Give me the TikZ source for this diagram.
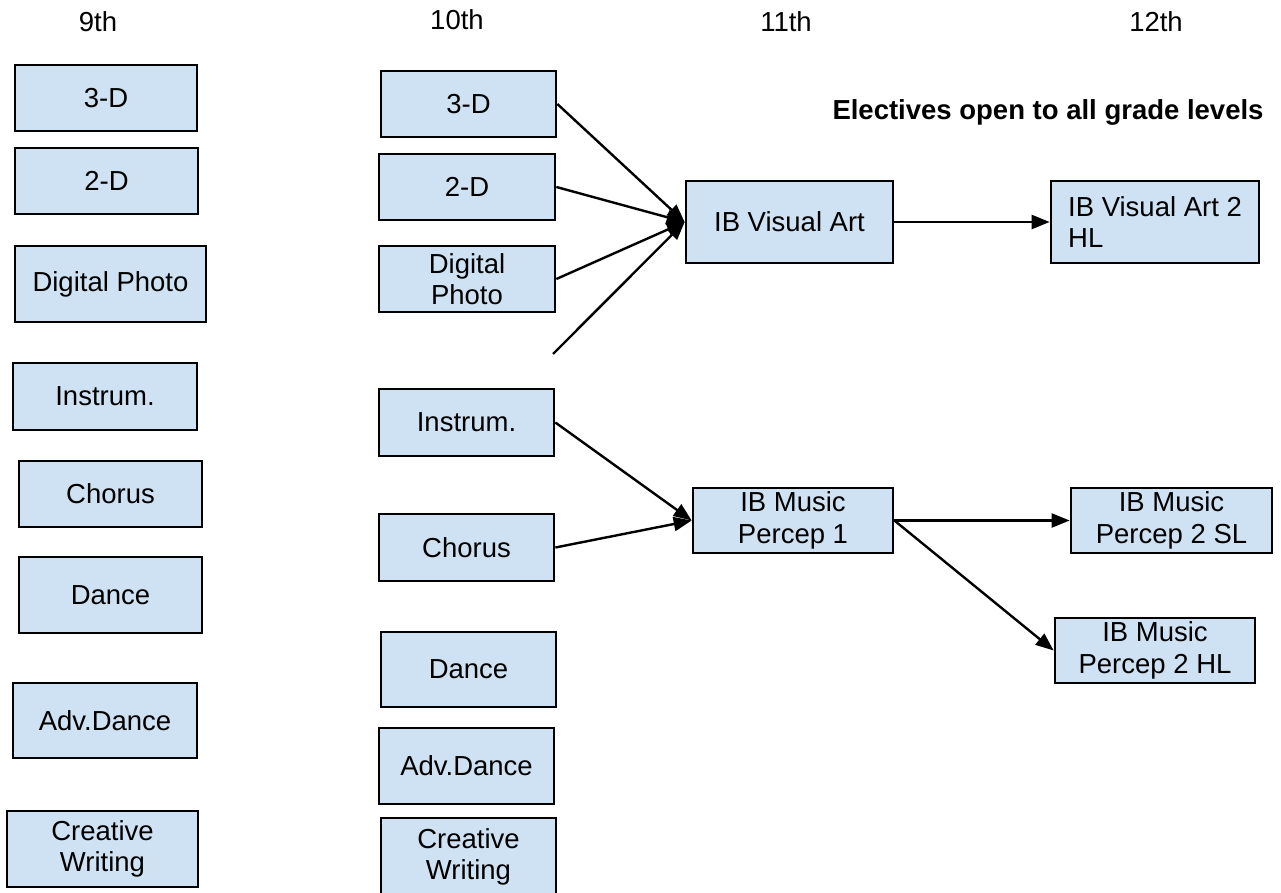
\documentclass[tikz,border=0pt]{standalone}
\usepackage{fontspec}
\setmainfont{Liberation Sans}
\usetikzlibrary{arrows.meta}
\definecolor{courseblue}{HTML}{CFE2F3}
\tikzset{
	course/.style={draw, line width=2.7pt, fill=courseblue, align=center, inner sep=4pt, font=\fontsize{27.5}{31.5}\selectfont},
	grade/.style={font=\fontsize{27.5}{31.5}\selectfont},
	link/.style={line width=2.4pt, -{Triangle[length=18pt,width=14pt]}}
}
\begin{document}
\begin{tikzpicture}[x=1pt,y=-1pt]
	\useasboundingbox (0,0) rectangle (1281,893);
	% grade headings
	\foreach \label/\cx/\cy in {9th/98/22, 10th/457/20, 11th/786/22, 12th/1156/22}
	{
		\node[grade] (head_\label) at (\cx,\cy) {\label};
	}
	\node[grade, font=\fontsize{27.5}{31.5}\selectfont\bfseries] (electives) at (1048,112) {Electives open to all grade levels};
	% ninth grade courses
	\foreach \label/\cx/\cy/\w/\h [count=\index] in {3-D/106/98/182/66, 2-D/106.5/181/183/66, Digital Photo/110.5/284/191/76, Instrum./105/396.5/184/67, Chorus/110.5/494/183/66, Dance/110.5/595/183/76, Adv.Dance/105/720.5/184/75, {Creative\\Writing}/102.5/849/191/76}
	{
		\node[course, minimum width=\w, minimum height=\h] (nine_\index) at (\cx,\cy) {\label};
	}
	% tenth grade courses
	\foreach \label/\cx/\cy/\w/\h [count=\index] in {3-D/468.5/104/175/66, 2-D/467/187/176/66, {Digital\\Photo}/467/279/176/66, Instrum./466.5/422.5/175/67, Chorus/466.5/547.5/175/67, Dance/468.5/669.5/175/75, Adv.Dance/466.5/766/175/76, {Creative\\Writing}/468.5/857/175/78}
	{
		\node[course, minimum width=\w, minimum height=\h] (ten_\index) at (\cx,\cy) {\label};
	}
	% eleventh and twelfth grade courses
	\node[course, minimum width=207, minimum height=82] (visart) at (789.5,222) {IB Visual Art};
	\node[course, minimum width=200, minimum height=65] (music_1) at (793,520.5) {IB Music\\Percep 1};
	\node[course, align=left, minimum width=208, minimum height=82] (visart_2) at (1155,222) {IB Visual Art 2\\HL};
	\node[course, minimum width=201, minimum height=65] (music_sl) at (1171.5,520.5) {IB Music\\Percep 2 SL};
	\node[course, minimum width=200, minimum height=65] (music_hl) at (1155,650.5) {IB Music\\Percep 2 HL};
	% loose end
	\coordinate (loose) at (553,354);
	% visual art links
	\foreach \current in {1,2,3}
	{
		\draw[link] (ten_\current.east) -- (visart.west);
	}
	\draw[link] (loose) -- (visart.west);
	\draw[link] (visart) -- (visart_2);
	% music links
	\foreach \current in {4,5}
	{
		\draw[link] (ten_\current.east) -- (music_1.west);
	}
	\draw[link] (music_1.east) -- (music_sl.west);
	\draw[link] (music_1.east) -- (music_hl.west);
\end{tikzpicture}
\end{document}
